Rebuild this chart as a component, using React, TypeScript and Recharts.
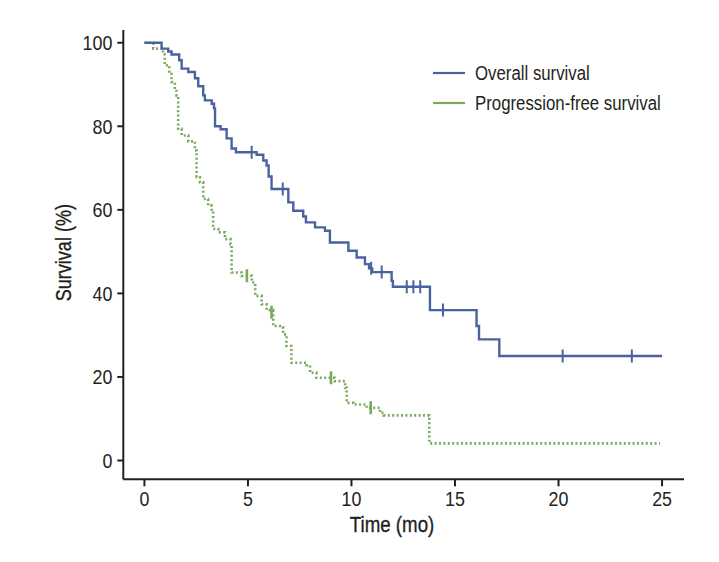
import React from 'react';
import {
  ComposedChart,
  Line,
  Scatter,
  XAxis,
  YAxis,
  Label,
} from 'recharts';

// Kaplan-Meier steps (time in months, survival in %)
const osTimes = [0, 0.83, 1.15, 1.31, 1.68, 1.8, 2.12, 2.44, 2.6, 2.84, 2.92, 3.25, 3.36, 3.41, 3.68, 3.97, 4.21, 4.42, 5.42, 5.74, 5.9, 6.0, 6.14, 6.95, 7.19, 7.67, 7.8, 8.24, 8.72, 8.96, 9.85, 10.25, 10.65, 10.85, 11.0, 11.94, 12.0, 13.79, 16.04, 16.16, 17.14, 25];
const osValues = [100, 98.6, 97.9, 97.2, 95.8, 93.8, 93.0, 91.5, 89.6, 87.4, 86.2, 85.4, 84.3, 80.0, 79.3, 77.1, 74.7, 73.8, 73.2, 71.8, 70.6, 68.0, 65.0, 61.8, 59.8, 58.4, 57.0, 55.8, 55.0, 52.2, 50.2, 48.6, 47.0, 46.0, 45.1, 43.0, 41.6, 36.0, 32.2, 29.0, 25.0, 25.0];
const osCensorTimes = [5.18, 6.68, 10.95, 11.46, 12.67, 12.99, 13.32, 14.42, 20.2, 23.54];
const osCensorValues = [73.8, 65.0, 46.0, 45.1, 41.6, 41.6, 41.6, 36.0, 25.0, 25.0];

const pfsTimes = [0, 0.43, 0.9, 0.98, 1.2, 1.31, 1.47, 1.55, 1.63, 1.8, 2.12, 2.44, 2.52, 2.68, 2.84, 3.08, 3.25, 3.32, 3.57, 3.89, 4.16, 4.21, 4.7, 5.19, 5.35, 5.66, 5.9, 6.22, 6.54, 6.7, 6.86, 7.1, 7.83, 8.0, 8.31, 9.2, 9.69, 9.77, 10.09, 10.73, 11.38, 11.55, 13.76, 24.9];
const pfsValues = [100, 98.6, 97.2, 94.6, 92.5, 90.6, 88.9, 87.4, 79.4, 77.8, 76.4, 74.2, 67.8, 66.6, 62.6, 61.0, 59.8, 55.4, 54.6, 53.0, 51.8, 45.0, 44.2, 42.6, 39.4, 37.4, 36.0, 32.2, 31.8, 30.2, 27.4, 23.4, 22.8, 21.0, 19.8, 19.0, 17.4, 13.8, 13.4, 12.6, 11.4, 10.8, 4.1, 4.1];
const pfsCensorTimes = [4.95, 6.14, 9.01, 10.93];
const pfsCensorValues = [44.2, 35.5, 19.8, 12.6];

const xTicks = [0, 5, 10, 15, 20, 25];
const yTicks = [0, 20, 40, 60, 80, 100];

const seriesNames = ['Overall survival', 'Progression-free survival'];

const BLUE = '#4a629f';
const GREEN = '#79aa5b';
const INK = '#231f20';
// no condensed font installed, so Liberation Sans is squeezed horizontally
const FONT = '"Liberation Sans", Arial, sans-serif';

const zip = (ts: number[], vs: number[]) => ts.map((t, i) => ({ t, s: vs[i] }));

const osData = zip(osTimes, osValues);
const pfsData = zip(pfsTimes, pfsValues);
const osCensor = zip(osCensorTimes, osCensorValues);
const pfsCensor = zip(pfsCensorTimes, pfsCensorValues);

const censorShape = (color: string, w: number) => (props: any) => {
  const { cx, cy } = props;
  return <line x1={cx} x2={cx} y1={cy - 6.5} y2={cy + 6.5} stroke={color} strokeWidth={w} />;
};

const XTick = (props: any) => {
  const { x, y, payload } = props;
  return (
    <text
      transform={`translate(${x},${y}) scale(0.85,1)`}
      dy="0.71em"
      textAnchor="middle"
      fill={INK}
      fontSize={21}
      fontFamily={FONT}
    >
      {payload.value}
    </text>
  );
};

const YTick = (props: any) => {
  const { x, y, payload } = props;
  return (
    <text
      transform={`translate(${x},${y}) scale(0.85,1)`}
      dy="0.355em"
      textAnchor="end"
      fill={INK}
      fontSize={21}
      fontFamily={FONT}
    >
      {payload.value}
    </text>
  );
};

const XTitle = (props: any) => {
  const { x, y, width } = props.viewBox;
  return (
    <text
      transform={`translate(${x + width / 2 - 11.6},${y + 45}) scale(0.85,1)`}
      dy="0.355em"
      textAnchor="middle"
      fill={INK}
      stroke={INK}
      strokeWidth={0.35}
      fontSize={22}
      fontFamily={FONT}
    >
      Time (mo)
    </text>
  );
};

const YTitle = (props: any) => {
  const { y, height } = props.viewBox;
  return (
    <text
      transform={`translate(63,${y + height / 2 - 2}) rotate(-90) scale(0.82,1)`}
      dy="0.355em"
      textAnchor="middle"
      fill={INK}
      stroke={INK}
      strokeWidth={0.35}
      fontSize={22}
      fontFamily={FONT}
    >
      Survival (%)
    </text>
  );
};

const LegendBox = () => (
  <div style={{ position: 'absolute', left: 433, top: 58, fontFamily: FONT, fontSize: 20, color: INK }}>
    {seriesNames.map((name, i) => (
      <div key={name} style={{ display: 'flex', alignItems: 'center', height: 30, whiteSpace: 'nowrap' }}>
        <svg width={42} height={30} style={{ flex: 'none' }}>
          <line x1={0} x2={32} y1={15} y2={15} stroke={i === 0 ? BLUE : GREEN} strokeWidth={2.2} />
        </svg>
        <span style={{ display: 'inline-block', transform: 'scaleX(0.84)', transformOrigin: 'left center' }}>{name}</span>
      </div>
    ))}
  </div>
);

export default function App() {
  return (
    <div style={{ position: 'absolute', left: 0, top: 0, width: 719, height: 562, background: '#fff' }}>
      <ComposedChart
        width={719}
        height={562}
        margin={{ top: 30, right: 35, bottom: 52.7, left: 63.3 }}
      >
        <XAxis
          dataKey="t"
          type="number"
          domain={[-1.02, 26.06]}
          ticks={xTicks}
          allowDataOverflow
          height={30}
          tickSize={7}
          tickMargin={5}
          tick={<XTick />}
          axisLine={{ stroke: INK, strokeWidth: 2 }}
          tickLine={{ stroke: INK, strokeWidth: 2 }}
        >
          <Label content={<XTitle />} />
        </XAxis>
        <YAxis
          dataKey="s"
          type="number"
          domain={[-4.5, 103.05]}
          ticks={yTicks}
          allowDataOverflow
          width={60}
          tickSize={6}
          tickMargin={5}
          tick={<YTick />}
          axisLine={{ stroke: INK, strokeWidth: 2 }}
          tickLine={{ stroke: INK, strokeWidth: 2 }}
        >
          <Label content={<YTitle />} />
        </YAxis>
        <Line
          data={pfsData}
          dataKey="s"
          name={seriesNames[1]}
          type="stepAfter"
          stroke={GREEN}
          strokeWidth={2.6}
          strokeDasharray="2 2.4"
          dot={false}
          activeDot={false}
          isAnimationActive={false}
        />
        <Scatter
          data={pfsCensor}
          dataKey="s"
          shape={censorShape(GREEN, 2.6)}
          isAnimationActive={false}
        />
        <Line
          data={osData}
          dataKey="s"
          name={seriesNames[0]}
          type="stepAfter"
          stroke={BLUE}
          strokeWidth={2.4}
          dot={false}
          activeDot={false}
          isAnimationActive={false}
        />
        <Scatter
          data={osCensor}
          dataKey="s"
          shape={censorShape(BLUE, 2)}
          isAnimationActive={false}
        />
      </ComposedChart>
      <LegendBox />
    </div>
  );
}
